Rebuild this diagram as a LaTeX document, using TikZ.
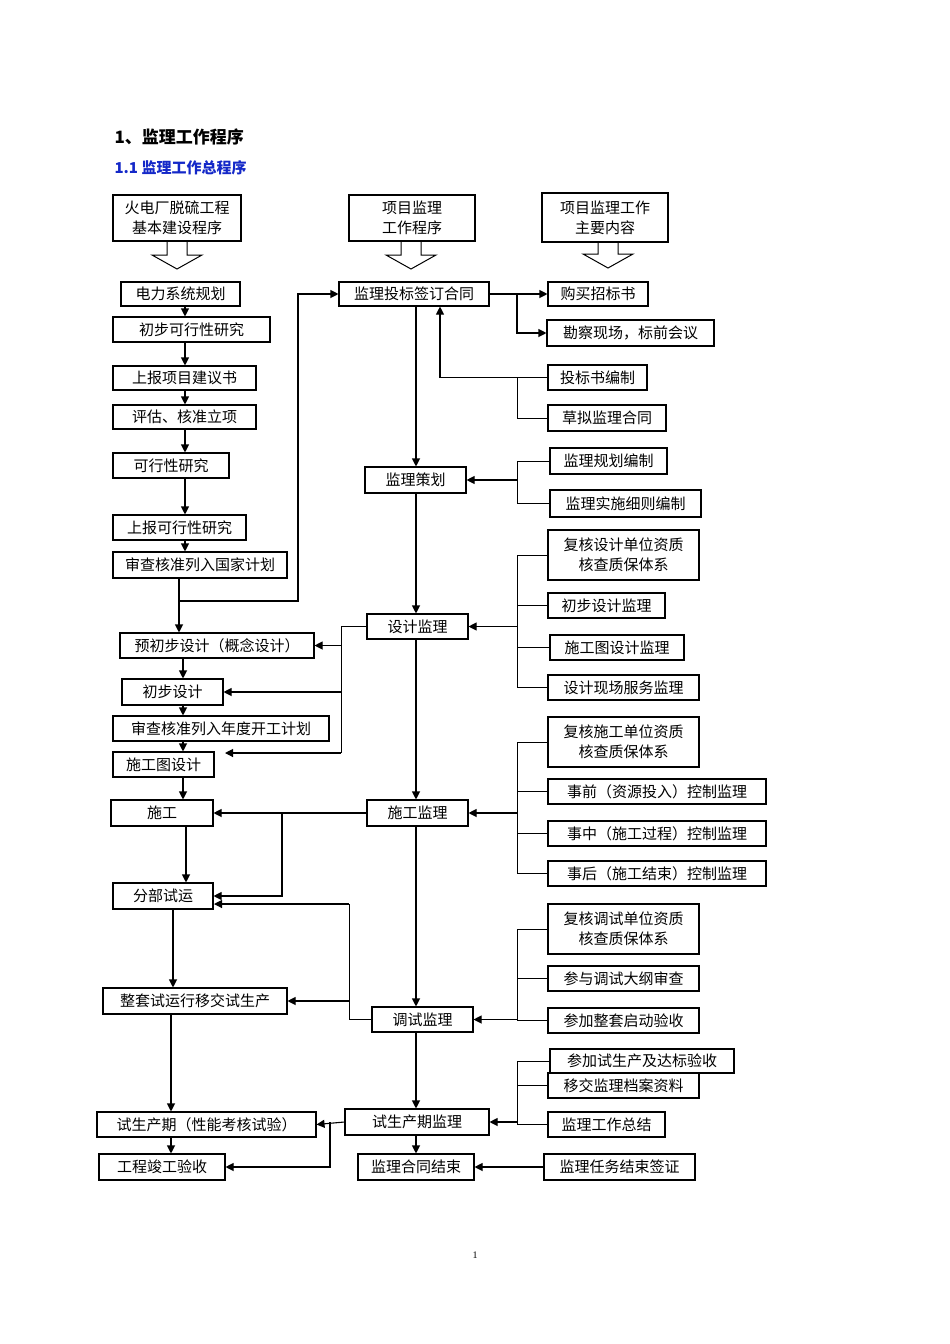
\documentclass[tikz,border=0pt]{standalone}
\usepackage{fontspec}
\setmainfont{Liberation Serif}
\newfontfamily\cjk{Noto Sans CJK SC}
\usetikzlibrary{arrows.meta}
\newcommand\bx[6]{\node[box,minimum width={#4-#2},minimum height={#5-#3}] (#1) at ({(#2+#4)/2},{(#3+#5)/2}) {#6};}
\newcommand\hol[3]{\draw[line width=1pt,fill=white] (#1-10,#2) -- (#1-10,#3-14) -- (#1-25,#3-14) -- (#1,#3) -- (#1+25,#3-14) -- (#1+10,#3-14) -- (#1+10,#2);}
\begin{document}
\begin{tikzpicture}[x=1pt,y=-1pt,
 box/.style={draw,line width=1.1pt,inner sep=0pt,align=center,font=\cjk\fontsize{15}{20}\selectfont},
 arr/.style={line width=1.1pt,-{Triangle[length=8pt,width=8pt]}},
 ln/.style={line width=0.9pt}]
\useasboundingbox (0,0) rectangle (950,1344);
\node[anchor=west,font=\cjk\bfseries\fontsize{17}{19}\selectfont] (t1) at (111,137) {1、监理工作程序};
\node[anchor=west,font=\cjk\bfseries\fontsize{15}{17}\selectfont,text={rgb,255:red,20;green,40;blue,200}] (t2) at (111,168) {1.1 监理工作总程序};
\node[font=\fontsize{10}{12}\selectfont] (pg) at (475,1255) {1};
% headers
\bx{A0}{113}{195}{241}{241}{火电厂脱硫工程\\基本建设程序}
\bx{B0}{349}{195}{475}{241}{项目监理\\工作程序}
\bx{C0}{542}{193}{668}{242}{项目监理工作\\主要内容}
\hol{177}{242}{269}
\hol{411}{242}{269}
\hol{608}{243}{268}
% left
\bx{L1}{121}{282}{240}{306}{电力系统规划}
\bx{L2}{113}{317}{270}{342}{初步可行性研究}
\bx{L3}{113}{366}{256}{390}{上报项目建议书}
\bx{L4}{113}{405}{256}{429}{评估、核准立项}
\bx{L5}{113}{453}{229}{478}{可行性研究}
\bx{L6}{113}{515}{246}{540}{上报可行性研究}
\bx{L7}{113}{552}{287}{578}{审查核准列入国家计划}
\bx{L8}{120}{633}{314}{658}{预初步设计（概念设计）}
\bx{L9}{122}{679}{223}{705}{初步设计}
\bx{L10}{113}{716}{329}{741}{审查核准列入年度开工计划}
\bx{L11}{113}{752}{214}{777}{施工图设计}
\bx{L12}{111}{800}{213}{826}{施工}
\bx{L13}{113}{883}{213}{909}{分部试运}
\bx{L14}{103}{988}{287}{1014}{整套试运行移交试生产}
\bx{L15}{97}{1112}{316}{1137}{试生产期（性能考核试验）}
\bx{L16}{99}{1154}{225}{1180}{工程竣工验收}
% middle
\bx{M1}{339}{282}{489}{306}{监理投标签订合同}
\bx{M2}{365}{467}{466}{493}{监理策划}
\bx{M3}{367}{614}{468}{639}{设计监理}
\bx{M4}{367}{800}{468}{826}{施工监理}
\bx{M5}{372}{1007}{473}{1032}{调试监理}
\bx{M6}{345}{1109}{489}{1135}{试生产期监理}
\bx{M7}{358}{1154}{474}{1180}{监理合同结束}
% right
\bx{R1}{548}{282}{648}{306}{购买招标书}
\bx{R2}{547}{320}{714}{346}{勘察现场，标前会议}
\bx{R3}{548}{365}{647}{390}{投标书编制}
\bx{R4}{548}{405}{666}{431}{草拟监理合同}
\bx{R5}{550}{448}{667}{474}{监理规划编制}
\bx{R6}{550}{490}{701}{517}{监理实施细则编制}
\bx{R7}{548}{530}{699}{580}{复核设计单位资质\\核查质保体系}
\bx{R8}{548}{593}{665}{618}{初步设计监理}
\bx{R9}{550}{635}{684}{660}{施工图设计监理}
\bx{R10}{548}{675}{699}{700}{设计现场服务监理}
\bx{R11}{548}{717}{699}{767}{复核施工单位资质\\核查质保体系}
\bx{R12}{548}{779}{766}{804}{事前（资源投入）控制监理}
\bx{R13}{548}{821}{766}{846}{事中（施工过程）控制监理}
\bx{R14}{548}{861}{766}{886}{事后（施工结束）控制监理}
\bx{R15}{548}{904}{699}{954}{复核调试单位资质\\核查质保体系}
\bx{R16}{548}{966}{699}{991}{参与调试大纲审查}
\bx{R17}{548}{1008}{699}{1033}{参加整套启动验收}
\bx{R18}{550}{1049}{734}{1073}{参加试生产及达标验收}
\bx{R19}{548}{1073}{699}{1098}{移交监理档案资料}
\bx{R20}{548}{1112}{665}{1137}{监理工作总结}
\bx{R21}{544}{1154}{695}{1180}{监理任务结束签证}
% coordinates
\coordinate (xl) at (185,0);
\coordinate (xa) at (179,0);
\coordinate (xb) at (183,0);
\coordinate (xc) at (186,0);
\coordinate (xd) at (173,0);
\coordinate (xe) at (171,0);
\coordinate (xmid) at (416,0);
\coordinate (xr) at (517,0);
\coordinate (xu) at (440,0);
\coordinate (xm) at (341,0);
\coordinate (xs) at (282,0);
\coordinate (xt) at (349,0);
\coordinate (xp) at (330,0);
\coordinate (k) at (298,601);
\coordinate (c11) at (225,753);
\coordinate (c13) at (214,904);
% left chain
\draw[arr] (L1.south -| xl) -- (L2.north -| xl);
\draw[arr] (L2.south -| xl) -- (L3.north -| xl);
\draw[arr] (L3.south -| xl) -- (L4.north -| xl);
\draw[arr] (L4.south -| xl) -- (L5.north -| xl);
\draw[arr] (L5.south -| xl) -- (L6.north -| xl);
\draw[arr] (L6.south -| xl) -- (L7.north -| xl);
\draw[arr] (L7.south -| xa) -- (L8.north -| xa);
\draw[arr] (L8.south -| xb) -- (L9.north -| xb);
\draw[arr] (L9.south -| xb) -- (L10.north -| xb);
\draw[arr] (L10.south -| xb) -- (L11.north -| xb);
\draw[arr] (L11.south -| xb) -- (L12.north -| xb);
\draw[arr] (L12.south -| xc) -- (L13.north -| xc);
\draw[arr] (L13.south -| xd) -- (L14.north -| xd);
\draw[arr] (L14.south -| xe) -- (L15.north -| xe);
\draw[arr] (L15.south -| xe) -- (L16.north -| xe);
\draw[arr] (xa |- k) -- (k) |- (M1.west);
% middle chain
\draw[arr] (M1.south -| xmid) -- (M2.north -| xmid);
\draw[arr] (M2.south -| xmid) -- (M3.north -| xmid);
\draw[arr] (M3.south -| xmid) -- (M4.north -| xmid);
\draw[arr] (M4.south -| xmid) -- (M5.north -| xmid);
\draw[arr] (M5.south -| xmid) -- (M6.north -| xmid);
\draw[arr] (M6.south -| xmid) -- (M7.north -| xmid);
% right side
\draw[arr] (M1.east) -- (R1.west);
\draw[arr] (M1.east -| xr) |- (R2.west);
\draw[ln] (R3.west) -- (R3.west -| xr) -- (R4.west -| xr) -- (R4.west);
\draw[arr] (R3.west -| xr) -| (xu |- M1.south);
\draw[ln] (R5.west) -- (R5.west -| xr) -- (R6.west -| xr) -- (R6.west);
\draw[arr] (xr |- M2.east) -- (M2.east);
\draw[ln] (R7.west) -- (R7.west -| xr) -- (R10.west -| xr) -- (R10.west);
\draw[ln] (R8.west) -- (R8.west -| xr);
\draw[ln] (R9.west) -- (R9.west -| xr);
\draw[arr] (xr |- M3.east) -- (M3.east);
\draw[ln] (R11.west) -- (R11.west -| xr) -- (R14.west -| xr) -- (R14.west);
\draw[ln] (R12.west) -- (R12.west -| xr);
\draw[ln] (R13.west) -- (R13.west -| xr);
\draw[arr] (xr |- M4.east) -- (M4.east);
\draw[ln] (R15.west) -- (R15.west -| xr) -- (R17.west -| xr) -- (R17.west);
\draw[ln] (R16.west) -- (R16.west -| xr);
\draw[arr] (xr |- M5.east) -- (M5.east);
\draw[ln] (R18.west) -- (R18.west -| xr) -- (R20.west -| xr) -- (R20.west);
\draw[ln] (R19.west) -- (R19.west -| xr);
\draw[arr] (xr |- M6.east) -- (M6.east);
\draw[arr] (R21.west) -- (M7.east);
% middle to left
\draw[ln] (M3.west) -- (M3.west -| xm) -- (xm |- c11);
\draw[arr] (xm |- L8.east) -- (L8.east);
\draw[arr] (xm |- L9.east) -- (L9.east);
\draw[arr] (c11 -| xm) -- (c11);
\draw[arr] (M4.west) -- (L12.east);
\draw[arr] (M4.west -| xs) |- (L13.east);
\draw[ln] (M5.west) -- (M5.west -| xt) -- (xt |- c13);
\draw[arr] (c13 -| xt) -- (c13);
\draw[arr] (xt |- L14.east) -- (L14.east);
\draw[arr] (M6.west) -- (L15.east);
\draw[arr] (M6.west -| xp) |- (L16.east);
\end{tikzpicture}
\end{document}
